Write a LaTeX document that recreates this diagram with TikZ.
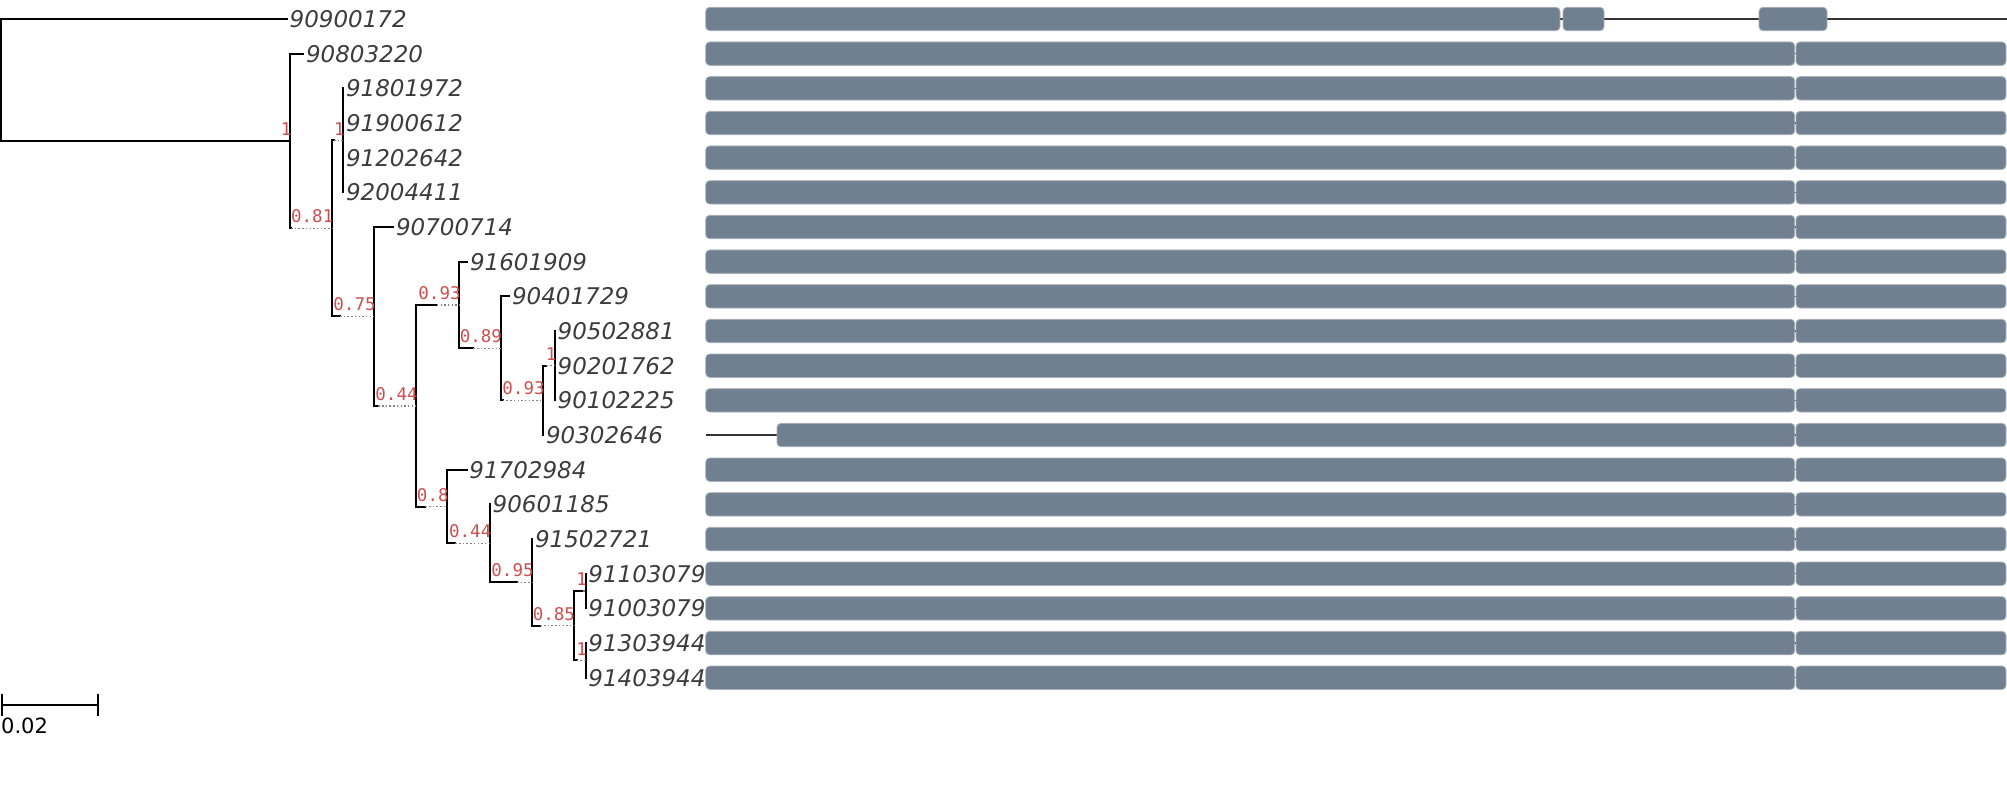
\documentclass[tikz,border=0pt]{standalone}
\usepackage{fontspec}
\setmainfont{DejaVu Sans}
\newfontfamily\supportfont{DejaVu Sans Mono}
\definecolor{seqgray}{RGB}{112,128,144}
\definecolor{seqedge}{RGB}{168,176,184}
\definecolor{supred}{RGB}{205,78,78}
\definecolor{leafgray}{RGB}{60,60,60}
\tikzset{
	branch/.style={black,line width=2pt,line cap=rect},
	extline/.style={black!50,line width=1.5pt,dash pattern=on 1.5pt off 2.2pt},
	leaf/.style={anchor=west,inner sep=0pt,inner xsep=2.5pt,text=leafgray,font=\fontsize{23}{26}\selectfont\itshape},
	support/.style={anchor=south east,inner sep=0pt,text=supred,font=\supportfont\fontsize{17.5}{19}\selectfont},
	seqbox/.style={fill=seqgray,draw=seqedge,line width=0.8pt,rounded corners=4pt},
	seqline/.style={black!80,line width=1.2pt}
}
\begin{document}
\begin{tikzpicture}[x=1pt,y=-1pt]
		\useasboundingbox (0,0) rectangle (2007,792);
		\coordinate (root) at (1,80.02);
		\coordinate (nB) at (290,141.03);
		\coordinate (nC) at (332,228.38);
		\coordinate (nD) at (343.3,140.35);
		\coordinate (nE) at (374.3,316.41);
		\coordinate (nF) at (416.3,405.79);
		\coordinate (nG) at (459.3,305.03);
		\coordinate (nH) at (500.7,348.37);
		\coordinate (nI) at (543.3,400.37);
		\coordinate (nJ) at (555,365.7);
		\coordinate (nK) at (447.3,506.55);
		\coordinate (nL) at (490,543.39);
		\coordinate (nM) at (532.3,582.39);
		\coordinate (nN) at (573.7,625.73);
		\coordinate (nO) at (585.7,591.06);
		\coordinate (nP) at (585.7,660.4);
		\node[leaf] (t0) at (287,19) {90900172};
		\node[leaf] (t1) at (303.3,53.67) {90803220};
		\node[leaf] (t2) at (343.3,88.34) {91801972};
		\node[leaf] (t3) at (343.3,123.01) {91900612};
		\node[leaf] (t4) at (343.3,157.68) {91202642};
		\node[leaf] (t5) at (343.3,192.35) {92004411};
		\node[leaf] (t6) at (393.3,227.02) {90700714};
		\node[leaf] (t7) at (467.3,261.69) {91601909};
		\node[leaf] (t8) at (509.3,296.36) {90401729};
		\node[leaf] (t9) at (555,331.03) {90502881};
		\node[leaf] (t10) at (555,365.7) {90201762};
		\node[leaf] (t11) at (555,400.37) {90102225};
		\node[leaf] (t12) at (543.3,435.04) {90302646};
		\node[leaf] (t13) at (466.7,469.71) {91702984};
		\node[leaf] (t14) at (490,504.38) {90601185};
		\node[leaf] (t15) at (532.3,539.05) {91502721};
		\node[leaf] (t16) at (585.7,573.72) {91103079};
		\node[leaf] (t17) at (585.7,608.39) {91003079};
		\node[leaf] (t18) at (585.7,643.06) {91303944};
		\node[leaf] (t19) at (585.7,677.73) {91403944};
		\foreach \p/\a/\b in {root/t0/nB, nB/t1/nC, nC/nD/nE, nD/t2/t5, nE/t6/nF, nF/nG/nK, nG/t7/nH, nH/t8/nI, nI/nJ/t12, nJ/t9/t11, nK/t13/nL, nL/t14/nM, nM/t15/nN, nN/nO/nP, nO/t16/t17, nP/t18/t19}
			\draw[branch] (\p |- \a) -- (\p |- \b);
		\foreach \p/\t in {root/t0, nB/t1, nD/t2, nD/t3, nD/t4, nD/t5, nE/t6, nG/t7, nH/t8, nJ/t9, nJ/t10, nJ/t11, nI/t12, nK/t13, nL/t14, nM/t15, nO/t16, nO/t17, nP/t18, nP/t19}
			\draw[branch] (\p |- \t) -- (\t.west);
		\foreach \p/\c/\s/\v in {root/nB/289/1, nB/nC/1/0.81, nC/nD/2/1, nC/nE/8/0.75, nE/nF/4/0.44, nF/nG/20.5/0.93, nG/nH/14/0.89, nH/nI/2/0.93, nI/nJ/3/1, nF/nK/9/0.8, nK/nL/8/0.44, nL/nM/27/0.95, nM/nN/8/0.85, nN/nO/9.5/1, nN/nP/3/1}{
			\draw[branch] (\p |- \c) -- ++(\s,0) coordinate (tmp);
			\draw[extline] (tmp) -- (\c);
			\node[support] at ([shift={(1.5,-5)}]\c) {\v};
		}
		\foreach \i in {1,...,11,13,14,...,19}{
			\pgfmathsetmacro\yy{19+34.67*\i}
			\pgfmathsetmacro\ya{\yy-11.7}
			\pgfmathsetmacro\yb{\yy+11.7}
			\draw[seqline] (706,\yy) -- (2006,\yy);
			\draw[seqbox] (705.7,\ya) rectangle (1794.7,\yb);
			\draw[seqbox] (1796,\ya) rectangle (2006,\yb);
		}
		\draw[seqline] (706,19) -- (2007,19);
		\draw[seqbox] (705.7,7.3) rectangle (1560,30.7);
		\draw[seqbox] (1563,7.3) rectangle (1604,30.7);
		\draw[seqbox] (1759,7.3) rectangle (1827,30.7);
		\draw[seqline] (706,435.04) -- (2006,435.04);
		\draw[seqbox] (777,423.34) rectangle (1794.7,446.74);
		\draw[seqbox] (1796,423.34) rectangle (2006,446.74);
		\draw[branch] (2,705) -- (98,705);
		\draw[branch] (2,695) -- (2,715);
		\draw[branch] (98,695) -- (98,715);
		\node[anchor=north west,inner sep=0pt,font=\fontsize{21}{24}\selectfont] (scalelabel) at (1,718) {0.02};
\end{tikzpicture}
\end{document}
